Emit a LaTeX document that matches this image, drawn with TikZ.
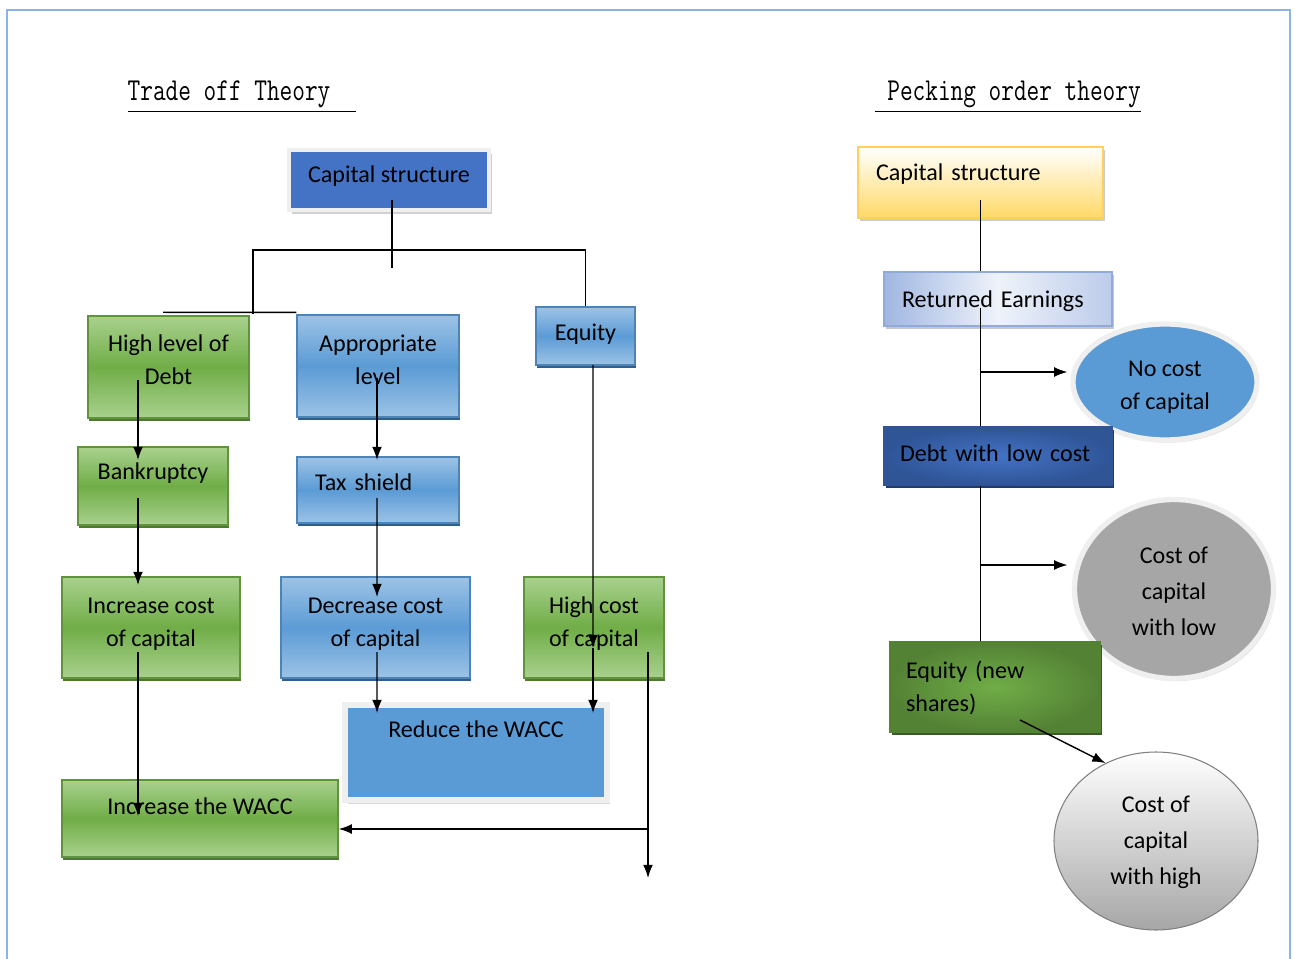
\documentclass[tikz,border=0pt]{standalone}
\usepackage{fontspec}
\setmainfont{Carlito}
\usepackage{tikz}
\usetikzlibrary{shapes.geometric,shadows,arrows.meta}
\definecolor{frame_blue}{HTML}{8DB3E2}
\definecolor{cap_blue}{HTML}{4472C4}
\definecolor{grn_mid}{HTML}{70AD47}
\definecolor{grn_lite}{HTML}{A9D18E}
\definecolor{grn_dark}{HTML}{4E7A30}
\definecolor{blu_mid}{HTML}{5B9BD5}
\definecolor{blu_lite}{HTML}{9DC3E6}
\definecolor{blu_dark}{HTML}{2E5F8E}
\definecolor{pale_gray}{HTML}{EFEFEF}
\definecolor{yel}{HTML}{FFD966}
\definecolor{lav}{HTML}{8FAADC}
\definecolor{navy}{HTML}{2F5597}
\definecolor{olive_grn}{HTML}{548235}
\definecolor{mid_gray}{HTML}{A6A6A6}

\tikzset{
    sz/.style 2 args={minimum width=#1*0.02cm, minimum height=#2*0.02cm},
    two/.style={text height=31pt},
    three/.style={text height=53.3pt, font=\fontsize{13.7}{20.5}\selectfont},
    box/.style={rectangle, inner ysep=0pt, text height=12.3pt, align=center},
    gbox/.style={box, draw=grn_mid!85!black, top color=grn_lite, bottom color=grn_lite, middle color=grn_mid,
        drop shadow={shadow xshift=0.8pt, shadow yshift=-1.8pt, fill=grn_dark, opacity=1}},
    bbox/.style={box, draw=blu_mid!85!black, top color=blu_lite, bottom color=blu_lite, middle color=blu_mid,
        drop shadow={shadow xshift=0.8pt, shadow yshift=-1.8pt, fill=blu_dark, opacity=1}},
    cbox/.style={box, fill=cap_blue, draw=pale_gray, line width=2.5pt,
        drop shadow={shadow xshift=1.5pt, shadow yshift=-2.2pt, fill=black!18, opacity=1}},
    rbox/.style={box, fill=blu_mid, draw=pale_gray, line width=3pt,
        drop shadow={shadow xshift=1.5pt, shadow yshift=-2.2pt, fill=black!15, opacity=1}},
    ybox/.style={box, draw=yel!90!orange, top color=white, bottom color=yel,
        drop shadow={shadow xshift=1pt, shadow yshift=-1.8pt, fill=black!20, opacity=1}},
    lbox/.style={box, draw=lav, left color=lav!85, right color=lav!60, middle color=lav!15,
        drop shadow={shadow xshift=1pt, shadow yshift=-1.8pt, fill=black!22, opacity=1}},
    nbox/.style={box, draw=navy, inner color=cap_blue, outer color=navy,
        drop shadow={shadow xshift=1pt, shadow yshift=-1.8pt, fill=navy!70!black, opacity=1}},
    ebox/.style={box, draw=olive_grn, inner color=grn_mid, outer color=olive_grn,
        drop shadow={shadow xshift=1pt, shadow yshift=-1.8pt, fill=olive_grn!70!black, opacity=1}},
    oval/.style={ellipse, inner sep=0pt, text height=12.3pt, align=center},
    arr/.style={-{Latex[length=7.5pt,width=5.6pt]}},
    title/.style={anchor=base west, inner sep=0pt, yscale=1.3, transform shape, font=\ttfamily\fontsize{14}{16}\selectfont}
}

\begin{document}
\begin{tikzpicture}[x=0.02cm, y=-0.02cm, font=\fontsize{13.7}{18.7}\selectfont, line width=0.8pt]
    \useasboundingbox (0,0) rectangle (1295,959);
    \draw[frame_blue, line width=1.2pt] (7,959) -- (7,10) -- (1290,10) -- (1290,959);

    \node[title] (trade_title) at (127,101) {\underline{Trade off Theory\ \ }};
    \node[title] (peck_title) at (874,101) {\underline{\ Pecking order theory}};

    % trade off theory
    \node[cbox, sz={200}{60}, text depth=9.3pt] (lcap) at (389,180) {Capital structure};
    \node[gbox, two, sz={161}{102}, text depth=11pt] (high) at (168.5,367) {High level of\\Debt};
    \node[bbox, two, sz={162}{102}, text depth=9.9pt] (appr) at (378,366) {Appropriate\\level};
    \node[bbox, sz={99}{58}, text depth=7.1pt] (equity) at (585.5,336) {Equity};
    \node[gbox, sz={150}{78}, text depth=19.6pt] (bank) at (153,486) {Bankruptcy};
    \node[bbox, sz={162}{66}, text depth=11.6pt, text width=2.52cm, inner xsep=0.36cm, align=left] (tax) at (378,490) {Tax shield};
    \node[gbox, two, sz={178}{101}, text depth=9.3pt] (incc) at (151,627.5) {Increase cost\\of capital};
    \node[bbox, two, sz={189}{101}, text depth=9.3pt] (decc) at (375.5,627.5) {Decrease cost\\of capital};
    \node[gbox, two, sz={140}{101}, text depth=9.3pt] (highc) at (594,627.5) {High cost\\of capital};
    \node[rbox, sz={262}{95}, text depth=29.3pt] (reduce) at (476,752.5) {Reduce the WACC};
    \node[gbox, sz={276}{77}, text depth=16.7pt] (incw) at (200,818.5) {Increase the WACC};

    \coordinate (cap_stub) at (392,268);
    \coordinate (br_l) at (253,250);
    \coordinate (br_r) at (585.5,250);
    \coordinate (hc_out) at (648,878);
    \coordinate (wacc_in) at ([shift={(0,10.5)}]incw.east);

    \draw ([shift={(3,20)}]lcap.center) -- (cap_stub);
    \draw ([shift={(-5.5,-3)}]high.north) -- ([yshift=1.1pt]appr.north west);
    \draw (br_l |- appr.north) |- (br_r) -- (equity.north);

    \draw[arr] ([shift={(-30.5,13)}]high.center) -- ([shift={(-15,-26)}]bank.center);
    \draw[arr] ([shift={(-15,12)}]bank.center) -- ([shift={(-13,-42.5)}]incc.center);
    \draw[arr] ([shift={(-13,24.5)}]incc.center) -- ([shift={(-62,-2.5)}]incw.center);
    \draw[arr] ([shift={(-1,12)}]appr.center) -- ([shift={(-1,-30)}]tax.center);
    \draw[arr] ([shift={(-1,8)}]tax.center) -- ([shift={(1.5,-30.5)}]decc.center);
    \draw[arr] ([shift={(1.5,24.5)}]decc.center) -- ([shift={(-99,-39.5)}]reduce.center);
    \draw[arr] ([shift={(7.5,29)}]equity.center) -- ([shift={(-1,20.5)}]highc.center);
    \draw[arr] ([shift={(-1,20.5)}]highc.center) -- ([shift={(117,-39.5)}]reduce.center);
    \draw[arr] ([shift={(54,24.5)}]highc.center) -- (hc_out);
    \draw[arr] (hc_out |- wacc_in) -- (wacc_in);

    % pecking order theory
    \node[ybox, sz={245}{71}, text depth=14.5pt, text width=4.18cm, inner xsep=0.36cm, align=left] (rcap) at (980.5,182.5) {Capital structure};
    \node[lbox, sz={228}{54}, text depth=2.5pt, text width=3.84cm, inner xsep=0.36cm, align=left] (ret) at (998,299) {Returned Earnings};
    \node[oval, two, fill=blu_mid, draw=pale_gray, line width=3pt, sz={184}{116}, text depth=0pt,
        drop shadow={shadow xshift=1pt, shadow yshift=-1.5pt, fill=black!15, opacity=1}] (nocost) at (1165,382) {No cost\\of capital};
    \node[nbox, sz={228}{58}, text depth=5.9pt, text width=3.92cm, inner xsep=0.32cm, align=left] (debt) at (998,456) {Debt with low cost};
    \node[oval, three, fill=mid_gray, draw=pale_gray, line width=3pt, sz={199}{179}, text depth=0.2pt,
        drop shadow={shadow xshift=1pt, shadow yshift=-1.5pt, fill=black!15, opacity=1}] (clow) at (1174,589) {Cost of\\capital\\with low};
    \node[ebox, sz={210}{90}, text depth=22.3pt, text width=3.56cm, inner xsep=0.32cm, align=left] (eqn) at (995,687) {Equity (new\\shares)};
    \node[oval, three, top color=white, bottom color=mid_gray, draw=black!50, line width=0.6pt, sz={204}{178}, text depth=3.6pt] (chigh) at (1156,841) {Cost of\\capital\\with high};

    \coordinate (nc_in) at ([shift={(-3,-10)}]nocost.west);
    \coordinate (cl_in) at ([shift={(-4.5,-24)}]clow.west);

    \draw (rcap.center) ++(0,17.5) -- (rcap.center |- ret.north);
    \draw (rcap.center |- ret.center) ++(0,9) -- (rcap.center |- debt.north);
    \draw (rcap.center |- debt.south) -- (rcap.center |- eqn.north);
    \draw[arr] (rcap.center |- nc_in) -- (nc_in);
    \draw[arr] (rcap.center |- cl_in) -- (cl_in);
    \draw[arr] ([shift={(25,33)}]eqn.center) -- (chigh.123);
\end{tikzpicture}
\end{document}
